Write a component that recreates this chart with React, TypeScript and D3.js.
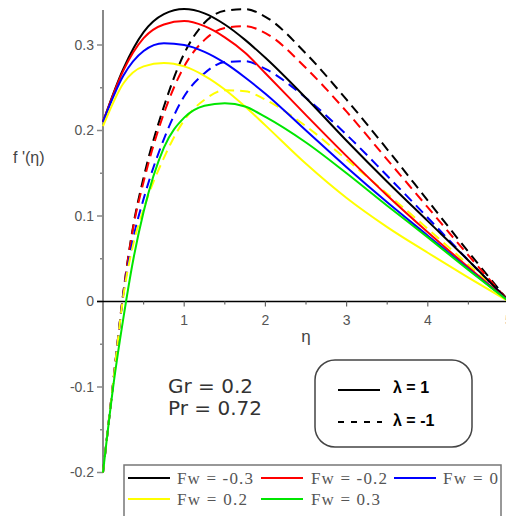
import React from "react";
import * as d3 from "d3";

const etaSolid = [0, 0.25, 0.5, 0.75, 1, 1.25, 1.5, 1.75, 2, 2.5, 3, 3.5, 4, 4.5, 5];
const etaDashed = [0, 0.125, 0.25, 0.375, 0.5, 0.75, 1, 1.25, 1.5, 1.75, 2, 2.5, 3, 3.5, 4, 4.5, 5];

const fwLabels = ["Fw = -0.3", "Fw = -0.2", "Fw = 0", "Fw = 0.2", "Fw = 0.3"];
const fwColors = ["#000000", "#ff0000", "#0000ff", "#ffff00", "#00e600"];

// lambda = 1 (solid)
const solidBlack = [0.21, 0.272, 0.315, 0.336, 0.342, 0.337, 0.324, 0.306, 0.285, 0.238, 0.188, 0.14, 0.094, 0.048, 0];
const solidRed = [0.21, 0.27, 0.308, 0.324, 0.328, 0.322, 0.309, 0.291, 0.267, 0.218, 0.17, 0.124, 0.081, 0.04, 0];
const solidBlue = [0.21, 0.264, 0.293, 0.302, 0.3, 0.292, 0.279, 0.262, 0.243, 0.2, 0.157, 0.116, 0.077, 0.038, 0];
const solidYellow = [0.205, 0.255, 0.275, 0.279, 0.275, 0.264, 0.248, 0.228, 0.206, 0.161, 0.121, 0.087, 0.057, 0.028, 0];
const solidGreen = [-0.2, -0.1, -0.02, 0.05, 0.105, 0.18, 0.215, 0.229, 0.232, 0.228, 0.216, 0.186, 0.15, 0.112, 0.075, 0.037, 0];

// lambda = -1 (dashed)
const dashBlack = [-0.2, -0.095, 0.01, 0.09, 0.145, 0.228, 0.29, 0.326, 0.34, 0.342, 0.333, 0.29, 0.236, 0.178, 0.118, 0.058, 0];
const dashRed = [-0.2, -0.095, 0.01, 0.088, 0.14, 0.22, 0.275, 0.306, 0.32, 0.322, 0.314, 0.273, 0.222, 0.166, 0.11, 0.054, 0];
const dashBlue = [-0.2, -0.095, 0.008, 0.075, 0.12, 0.19, 0.24, 0.267, 0.28, 0.281, 0.272, 0.238, 0.195, 0.147, 0.098, 0.048, 0];
const dashYellow = [-0.2, -0.095, 0.006, 0.068, 0.108, 0.168, 0.212, 0.236, 0.247, 0.246, 0.236, 0.205, 0.166, 0.126, 0.085, 0.043, 0];

const xTicks = [1, 2, 3, 4, 5];
const xMinor = [0.5, 1.5, 2.5, 3.5, 4.5];
const yTicks = [-0.2, -0.1, 0, 0.1, 0.2, 0.3];
const yMinor = [-0.15, -0.05, 0.05, 0.15, 0.25];

export default function App() {
  const x = d3.scaleLinear().domain([0, 5]).range([103, 509]);
  const y = d3.scaleLinear().domain([0, 0.3]).range([301.5, 45]);

  const line = (etas: number[], vals: number[]) =>
    d3
      .line<number>()
      .x((_, i) => x(etas[i]))
      .y((v) => y(v))
      .curve(d3.curveMonotoneX)(vals) || "";

  const dashed = [
    { v: dashBlack, c: fwColors[0] },
    { v: dashRed, c: fwColors[1] },
    { v: dashBlue, c: fwColors[2] },
    { v: dashYellow, c: fwColors[3] },
  ];
  const solid = [
    { e: etaSolid, v: solidBlack, c: fwColors[0] },
    { e: etaSolid, v: solidRed, c: fwColors[1] },
    { e: etaSolid, v: solidBlue, c: fwColors[2] },
    { e: etaSolid, v: solidYellow, c: fwColors[3] },
    { e: etaDashed, v: solidGreen, c: fwColors[4] },
  ];

  const tickFont = "Liberation Sans, Arial, sans-serif";
  const legendPos = [
    { lx: 128, tx: 177, ty: 482, w: 76 },
    { lx: 261, tx: 311, ty: 482, w: 76 },
    { lx: 394, tx: 443, ty: 482, w: 55 },
    { lx: 128, tx: 177, ty: 503, w: 70 },
    { lx: 261, tx: 311, ty: 503, w: 69 },
  ];

  return (
    <svg
      width={506}
      height={516}
      style={{ position: "absolute", left: 0, top: 0, display: "block", background: "#fff" }}
    >
      {/* y axis */}
      <line x1={103} x2={103} y1={10} y2={y(-0.2)} stroke="#888" strokeWidth={2} />
      {yTicks.map((t) => (
        <g key={"yt" + t}>
          <line x1={97} x2={103} y1={y(t)} y2={y(t)} stroke="#888" strokeWidth={1.5} />
          <text
            x={94}
            y={y(t)}
            dy="0.35em"
            textAnchor="end"
            fontFamily={tickFont}
            fontSize={14}
            fill="#555"
          >
            {t === 0 ? "0" : t.toFixed(1)}
          </text>
        </g>
      ))}
      {yMinor.map((t) => (
        <line key={"ym" + t} x1={100} x2={103} y1={y(t)} y2={y(t)} stroke="#888" strokeWidth={1.5} />
      ))}

      {/* x axis */}
      <line x1={97} x2={506} y1={y(0)} y2={y(0)} stroke="#000" strokeWidth={1.5} />
      {xTicks.map((t) => (
        <g key={"xt" + t}>
          <line x1={x(t)} x2={x(t)} y1={y(0)} y2={y(0) + 5} stroke="#666" strokeWidth={1.2} />
          <text x={x(t)} y={325} textAnchor="middle" fontFamily={tickFont} fontSize={14} fill="#555">
            {t}
          </text>
        </g>
      ))}
      {xMinor.map((t) => (
        <line key={"xm" + t} x1={x(t)} x2={x(t)} y1={y(0)} y2={y(0) + 3} stroke="#666" strokeWidth={1.2} />
      ))}
      <text x={306} y={342} textAnchor="middle" fontFamily={tickFont} fontSize={17} fill="#444">
        η
      </text>
      <text x={13} y={163} fontFamily={tickFont} fontSize={16} fill="#444">
        f '(η)
      </text>

      {/* curves */}
      {dashed.map((d, i) => (
        <path
          key={"d" + i}
          d={line(etaDashed, d.v)}
          fill="none"
          stroke={d.c}
          strokeWidth={2}
          strokeDasharray="10,6"
        />
      ))}
      {solid.map((d, i) => (
        <path key={"s" + i} d={line(d.e, d.v)} fill="none" stroke={d.c} strokeWidth={2} />
      ))}

      {/* parameter text */}
      <text x={168} y={393} fontFamily="DejaVu Sans, Verdana, sans-serif" fontSize={20} fill="#333">
        Gr = 0.2
      </text>
      <text x={168} y={415} fontFamily="DejaVu Sans, Verdana, sans-serif" fontSize={20} fill="#333">
        Pr = 0.72
      </text>

      {/* lambda legend */}
      <rect x={315} y={360} width={157} height={87} rx={20} ry={20} fill="none" stroke="#444" strokeWidth={1.5} />
      <line x1={338} x2={380} y1={390} y2={390} stroke="#000" strokeWidth={1.8} />
      <text x={393} y={393} fontFamily={tickFont} fontSize={16} fontWeight="bold" fill="#000">
        λ = 1
      </text>
      <line x1={338} x2={382} y1={422} y2={422} stroke="#000" strokeWidth={1.8} strokeDasharray="6,7" />
      <text x={393} y={426} fontFamily={tickFont} fontSize={16} fontWeight="bold" fill="#000">
        λ = -1
      </text>

      {/* Fw legend */}
      <rect x={124} y={465} width={377} height={60} fill="#fff" stroke="#777" strokeWidth={1.5} />
      {fwLabels.map((lab, i) => {
        const p = legendPos[i];
        return (
          <g key={"lg" + i}>
            <line x1={p.lx} x2={p.lx + 42} y1={p.ty - 4} y2={p.ty - 4} stroke={fwColors[i]} strokeWidth={2.2} />
            <text
              x={p.tx}
              y={p.ty + 2}
              fontFamily="Liberation Serif, Times New Roman, serif"
              fontSize={17}
              fill="#555"
              textLength={p.w}
              lengthAdjust="spacing"
            >
              {lab}
            </text>
          </g>
        );
      })}
    </svg>
  );
}
